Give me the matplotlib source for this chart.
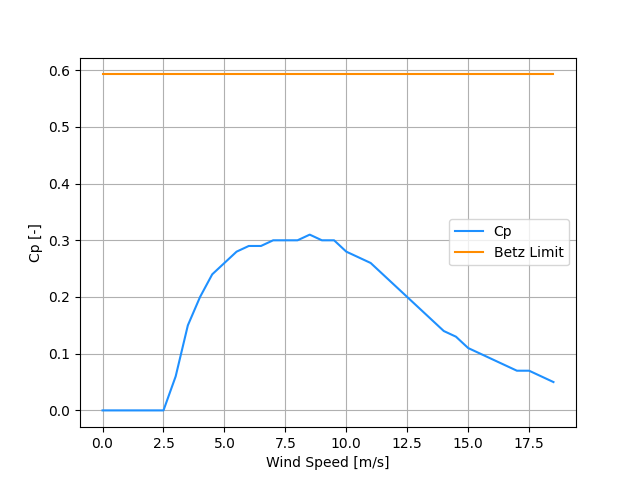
import matplotlib
matplotlib.use("Agg")
import matplotlib.pyplot as plt

wind_speed = [0, 0.5, 1, 1.5, 2, 2.5, 3, 3.5, 4, 4.5, 5, 5.5, 6, 6.5, 7, 7.5, 8, 8.5, 9, 9.5,
              10, 10.5, 11, 11.5, 12, 12.5, 13, 13.5, 14, 14.5, 15, 15.5, 16, 16.5, 17, 17.5, 18, 18.5]
cp = [0, 0, 0, 0, 0, 0, 0.06, 0.15, 0.20, 0.24, 0.26, 0.28, 0.29, 0.29, 0.30, 0.30, 0.30, 0.31, 0.30, 0.30,
      0.28, 0.27, 0.26, 0.24, 0.22, 0.20, 0.18, 0.16, 0.14, 0.13, 0.11, 0.10, 0.09, 0.08, 0.07, 0.07, 0.06, 0.05]
betz = [16 / 27] * len(wind_speed)

fig, ax = plt.subplots(figsize=(6.4, 4.8), dpi=100)
ax.plot(wind_speed, cp, color="dodgerblue", label="Cp")
ax.plot(wind_speed, betz, color="darkorange", label="Betz Limit")
ax.set_xlabel("Wind Speed [m/s]")
ax.set_ylabel("Cp [-]")
ax.grid(True)
ax.legend(loc="center right")
fig.savefig("out.png")
